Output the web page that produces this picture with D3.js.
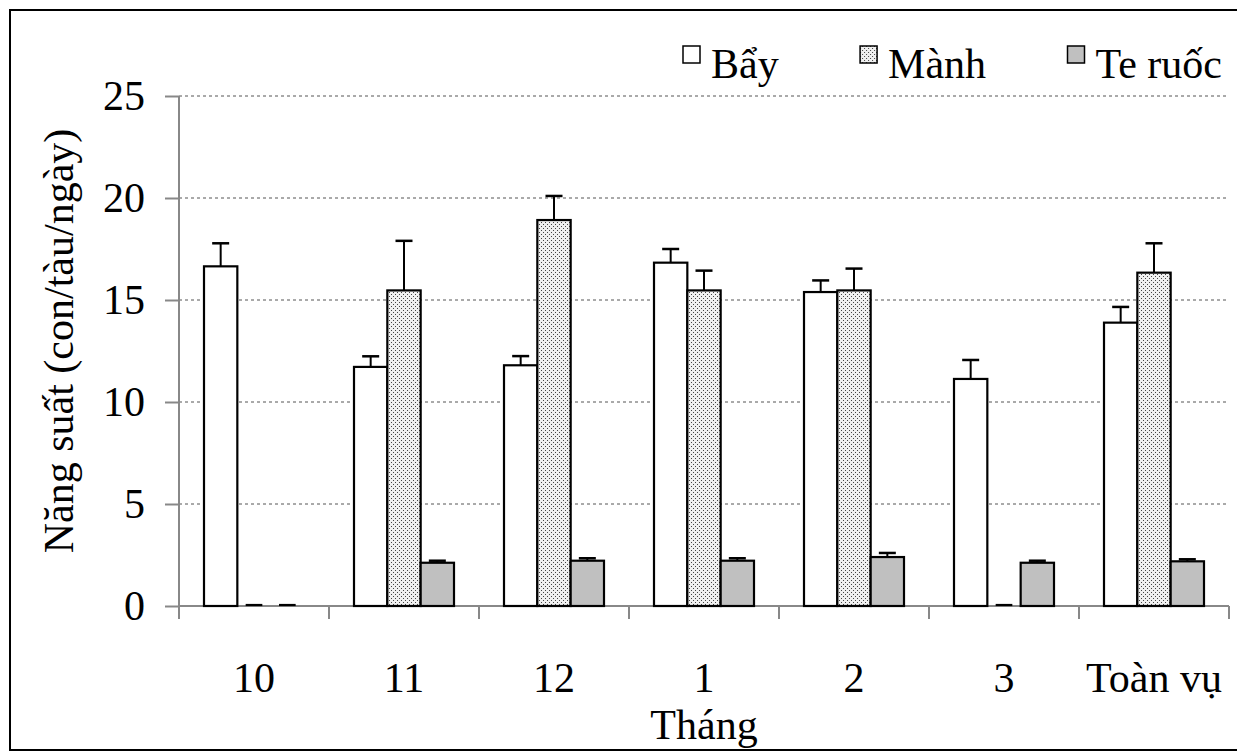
<!DOCTYPE html>
<html lang="vi">
<head>
<meta charset="utf-8">
<title>Năng suất theo tháng</title>
<script src="https://d3js.org/d3.v7.min.js"></script>
<style>
  body { margin: 0; background: #fff; }
  svg text { font-family: "Liberation Serif", serif !important; fill: #000; }
</style>
</head>
<body>
<div id="chart"></div>
<script>
// data
const months = ["10", "11", "12", "1", "2", "3", "Toàn vụ"];
const series = ["Bẩy", "Mành", "Te ruốc"];
const bay = [16.65, 11.72, 11.8, 16.83, 15.39, 11.13, 13.89];
const bayErr = [1.13, 0.52, 0.45, 0.67, 0.57, 0.93, 0.77];
const manh = [0, 15.47, 18.92, 15.47, 15.47, 0, 16.34];
const manhErr = [0, 2.43, 1.18, 0.97, 1.07, 0, 1.44];
const teruoc = [0, 2.12, 2.22, 2.22, 2.4, 2.12, 2.19];
const teruocErr = [0, 0.1, 0.12, 0.12, 0.2, 0.1, 0.1];
const yTicks = [0, 5, 10, 15, 20, 25];

const width = 1237, height = 751;
const plotLeft = 179, plotRight = 1229, plotTop = 96, plotBottom = 606;
const fontSize = "42px";

const svg = d3.select("#chart").append("svg")
  .attr("width", width)
  .attr("height", height)
  .attr("font-family", "Liberation Serif");

// dotted fill for Mành
const defs = svg.append("defs");
const pat = defs.append("pattern")
  .attr("id", "dots")
  .attr("patternUnits", "userSpaceOnUse")
  .attr("width", 4).attr("height", 4);
pat.append("rect").attr("width", 4).attr("height", 4).attr("fill", "#f0f0f0");
pat.append("rect").attr("x", 0).attr("y", 0).attr("width", 1).attr("height", 1).attr("fill", "#444");
pat.append("rect").attr("x", 2).attr("y", 2).attr("width", 1).attr("height", 1).attr("fill", "#444");

const fills = { "Bẩy": "#ffffff", "Mành": "url(#dots)", "Te ruốc": "#c0c0c0" };

// outer frame
svg.append("rect")
  .attr("x", 10).attr("y", 10)
  .attr("width", 1250).attr("height", 740)
  .attr("fill", "none").attr("stroke", "#000").attr("stroke-width", 2);

const x = d3.scaleBand().domain(months).range([plotLeft, plotRight]).padding(0);
const x1 = d3.scaleBand().domain(series).range([25, x.bandwidth() - 25]).padding(0);
const y = d3.scaleLinear().domain([0, 25]).range([plotBottom, plotTop]);

// grid
svg.append("g").selectAll("line")
  .data(yTicks.filter(d => d > 0))
  .join("line")
  .attr("x1", plotLeft).attr("x2", plotRight)
  .attr("y1", d => y(d)).attr("y2", d => y(d))
  .attr("stroke", "#555").attr("stroke-width", 1)
  .attr("stroke-dasharray", "3,3");

// y axis
const yAxis = svg.append("g")
  .attr("transform", `translate(${plotLeft},0)`)
  .call(d3.axisLeft(y).tickValues(yTicks).tickSize(14).tickPadding(20).tickSizeOuter(0));
yAxis.attr("font-family", "Liberation Serif").attr("font-size", null);
yAxis.select(".domain").remove();
yAxis.append("line")
  .attr("x1", 0).attr("x2", 0)
  .attr("y1", plotTop).attr("y2", plotBottom + 13)
  .attr("stroke", "#888").attr("stroke-width", 2);
yAxis.selectAll(".tick line").attr("stroke", "#888").attr("stroke-width", 2);
yAxis.selectAll(".tick text")
  .style("font-size", fontSize)
  .attr("fill", "#000");

// x axis line and ticks at group boundaries
svg.append("line")
  .attr("x1", plotLeft).attr("x2", plotRight)
  .attr("y1", plotBottom).attr("y2", plotBottom)
  .attr("stroke", "#888").attr("stroke-width", 2);
svg.append("g").selectAll("line")
  .data(months.concat(["end"]))
  .join("line")
  .attr("x1", (d, i) => i < months.length ? x(d) : plotRight)
  .attr("x2", (d, i) => i < months.length ? x(d) : plotRight)
  .attr("y1", plotBottom).attr("y2", plotBottom + 13)
  .attr("stroke", "#888").attr("stroke-width", 2);

svg.append("g").selectAll("text")
  .data(months)
  .join("text")
  .attr("x", d => x(d) + x.bandwidth() / 2)
  .attr("y", 692)
  .attr("text-anchor", "middle")
  .style("font-size", fontSize)
  .text(d => d);

// bars
const rows = months.map((m, i) => ({
  month: m,
  vals: [
    { s: "Bẩy", v: bay[i], e: bayErr[i] },
    { s: "Mành", v: manh[i], e: manhErr[i] },
    { s: "Te ruốc", v: teruoc[i], e: teruocErr[i] }
  ]
}));

const groups = svg.append("g").selectAll("g")
  .data(rows)
  .join("g")
  .attr("transform", d => `translate(${x(d.month)},0)`);

// error bars (upper only)
groups.selectAll("g.err")
  .data(d => d.vals.filter(v => v.e > 0))
  .join("g")
  .attr("class", "err")
  .each(function (d) {
    const g = d3.select(this);
    const cx = x1(d.s) + x1.bandwidth() / 2;
    g.append("line")
      .attr("x1", cx).attr("x2", cx)
      .attr("y1", y(d.v)).attr("y2", y(d.v + d.e))
      .attr("stroke", "#000").attr("stroke-width", 2);
    g.append("line")
      .attr("x1", cx - 8.5).attr("x2", cx + 8.5)
      .attr("y1", y(d.v + d.e)).attr("y2", y(d.v + d.e))
      .attr("stroke", "#000").attr("stroke-width", 2.5);
  });

groups.selectAll("rect")
  .data(d => d.vals.filter(v => v.v > 0))
  .join("rect")
  .attr("x", d => x1(d.s))
  .attr("y", d => y(d.v))
  .attr("width", x1.bandwidth())
  .attr("height", d => y(0) - y(d.v))
  .attr("fill", d => fills[d.s])
  .attr("stroke", "#000")
  .attr("stroke-width", 2.2);

// zero-value bars show as a short flat stroke on the axis
groups.selectAll("line.zero")
  .data(d => d.vals.filter(v => v.v === 0))
  .join("line")
  .attr("class", "zero")
  .attr("x1", d => x1(d.s) + x1.bandwidth() * 0.25)
  .attr("x2", d => x1(d.s) + x1.bandwidth() * 0.75)
  .attr("y1", y(0) - 1).attr("y2", y(0) - 1)
  .attr("stroke", "#000").attr("stroke-width", 2.2);

// axis titles
svg.append("text")
  .attr("transform", "translate(73,341) rotate(-90)")
  .attr("text-anchor", "middle")
  .style("font-size", fontSize)
  .text("Năng suất (con/tàu/ngày)");

svg.append("text")
  .attr("x", (plotLeft + plotRight) / 2)
  .attr("y", 739)
  .attr("text-anchor", "middle")
  .style("font-size", fontSize)
  .text("Tháng");

// legend: entries spread between 683 and 1222
const legend = svg.append("g").selectAll("g")
  .data(series)
  .join("g");
legend.append("rect")
  .attr("x", 0).attr("y", 46)
  .attr("width", 17).attr("height", 17)
  .attr("fill", d => fills[d])
  .attr("stroke", "#000").attr("stroke-width", 1.5);
legend.append("text")
  .attr("x", 28).attr("y", 78)
  .style("font-size", fontSize)
  .text(d => d);
const widths = [];
legend.select("text").each(function () { widths.push(this.getComputedTextLength()); });
const total = d3.sum(widths) + 3 * 28;
const gap = (1222 - 683 - total) / 2;
let pos = 683;
legend.attr("transform", (d, i) => {
  const t = `translate(${pos},0)`;
  pos += 28 + widths[i] + gap;
  return t;
});
</script>
</body>
</html>
